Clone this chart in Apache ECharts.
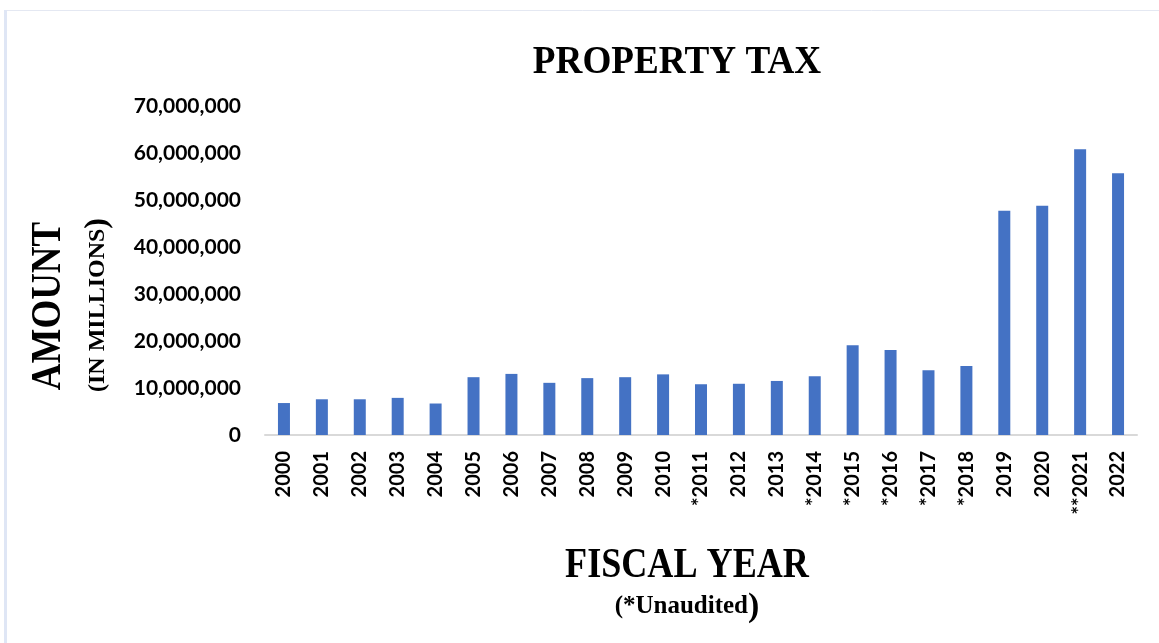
<!DOCTYPE html>
<html>
<head>
<meta charset="utf-8">
<script src="https://cdn.jsdelivr.net/npm/echarts@6/dist/echarts.min.js"></script>
<style>
  html, body { margin: 0; padding: 0; background: #fff; }
  #chart { width: 1159px; height: 643px; }
</style>
</head>
<body>
<div id="chart"></div>
<script>
// fiscal years (* = unaudited)
var years = ["2000", "2001", "2002", "2003", "2004", "2005", "2006", "2007", "2008", "2009", "2010",
  "*2011", "2012", "2013", "*2014", "*2015", "*2016", "*2017", "*2018", "2019", "2020", "**2021", "2022"];
// property tax amounts
var amounts = [6800000, 7600000, 7600000, 7900000, 6700000, 12300000, 13000000, 11100000, 12100000,
  12300000, 12900000, 10800000, 10900000, 11500000, 12500000, 19100000, 18100000, 13800000,
  14700000, 47700000, 48800000, 60800000, 55700000];

var chart = echarts.init(document.getElementById("chart"));

var serif = "'Liberation Serif', 'Times New Roman', serif";
var sans = "Lato, 'Open Sans', sans-serif";

var option = {
  backgroundColor: "#fff",
  animation: false,
  grid: { left: 265, right: 22, top: 106, bottom: 208 },
  xAxis: {
    type: "category",
    data: years,
    axisLine: { lineStyle: { color: "#d9d9d9", width: 2 } },
    axisTick: { show: false },
    axisLabel: {
      rotate: 90,
      margin: 16,
      interval: 0,
      color: "#000",
      fontFamily: sans,
      fontWeight: "bold",
      fontSize: 20
    }
  },
  yAxis: {
    type: "value",
    min: 0,
    max: 70000000,
    interval: 10000000,
    axisLine: { show: false },
    axisTick: { show: false },
    splitLine: { show: false },
    axisLabel: {
      margin: 24,
      color: "#000",
      fontFamily: sans,
      fontWeight: "bold",
      fontSize: 21,
      formatter: function (v) { return v.toLocaleString("en-US"); }
    }
  },
  series: [
    {
      type: "bar",
      data: amounts,
      barWidth: 12,
      itemStyle: { color: "#4472c4" }
    }
  ],
  graphic: [
    {
      type: "rect",
      shape: { x: 5.5, y: 10.5, width: 1160, height: 640 },
      style: { fill: "none", stroke: "#e4e8f2", lineWidth: 1 },
      silent: true
    },
    {
      type: "rect",
      shape: { x: 4, y: 10, width: 3, height: 640 },
      style: { fill: "#dfe6f5" },
      silent: true
    },
    {
      // chart title
      type: "text",
      x: 677, y: 63,
      scaleX: 0.93,
      style: {
        text: "PROPERTY TAX",
        fontFamily: serif, fontWeight: "bold", fontSize: 40, fill: "#000",
        align: "center", verticalAlign: "middle"
      }
    },
    {
      type: "text",
      x: 49, y: 306,
      rotation: Math.PI / 2,
      scaleX: 0.88,
      style: {
        text: "AMOUNT",
        fontFamily: serif, fontWeight: "bold", fontSize: 42, fill: "#000",
        align: "center", verticalAlign: "middle"
      }
    },
    {
      type: "text",
      x: 98, y: 305,
      rotation: Math.PI / 2,
      style: {
        text: "(IN MILLIONS{p|)}",
        fontFamily: serif, fontWeight: "bold", fontSize: 24, fill: "#000",
        align: "center", verticalAlign: "middle",
        rich: { p: { fontFamily: serif, fontWeight: "bold", fontSize: 32, fill: "#000" } }
      }
    },
    {
      type: "text",
      x: 687, y: 566,
      scaleX: 0.86,
      style: {
        text: "FISCAL YEAR",
        fontFamily: serif, fontWeight: "bold", fontSize: 42, fill: "#000",
        align: "center", verticalAlign: "middle"
      }
    },
    {
      type: "text",
      x: 687, y: 607,
      style: {
        text: "(*Unaudited{p|)}",
        fontFamily: serif, fontWeight: "bold", fontSize: 25, fill: "#000",
        align: "center", verticalAlign: "middle",
        rich: { p: { fontFamily: serif, fontWeight: "bold", fontSize: 34, fill: "#000" } }
      }
    }
  ]
};

chart.setOption(option);
</script>
</body>
</html>
